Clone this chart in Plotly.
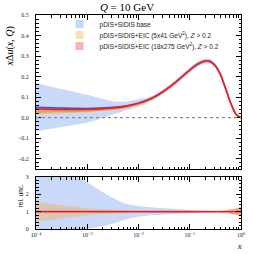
import plotly.graph_objects as go

# ---------------- data ----------------
x_vals = [0.0001, 0.000316, 0.001, 0.00316, 0.00562, 0.01, 0.0178, 0.0316, 0.0562,
          0.1, 0.141, 0.2, 0.251, 0.316, 0.398, 0.501, 0.631, 0.794, 1.0]

# central values x*Delta u(x, Q)
base_c = [0.050, 0.047, 0.045, 0.050, 0.057, 0.070, 0.093, 0.130, 0.178,
          0.232, 0.260, 0.276, 0.274, 0.253, 0.210, 0.142, 0.070, 0.017, 0.0]
eic5_c = [0.028, 0.030, 0.033, 0.042, 0.051, 0.067, 0.090, 0.127, 0.177,
          0.232, 0.260, 0.276, 0.274, 0.253, 0.210, 0.142, 0.070, 0.017, 0.0]
eic18_c = [0.042, 0.040, 0.040, 0.047, 0.055, 0.070, 0.093, 0.130, 0.178,
           0.232, 0.260, 0.276, 0.274, 0.253, 0.210, 0.142, 0.070, 0.017, 0.0]

# uncertainty bands (lower / upper)
base_lo = [-0.066, -0.045, -0.025, 0.015, 0.035, 0.052, 0.083, 0.120, 0.167,
           0.220, 0.248, 0.264, 0.262, 0.242, 0.200, 0.133, 0.063, 0.012, -0.002]
base_hi = [0.168, 0.140, 0.111, 0.079, 0.078, 0.090, 0.103, 0.140, 0.189,
           0.244, 0.272, 0.288, 0.286, 0.264, 0.220, 0.151, 0.077, 0.022, 0.002]
eic5_lo = [0.015, 0.021, 0.026, 0.037, 0.046, 0.062, 0.084, 0.121, 0.171,
           0.226, 0.254, 0.270, 0.268, 0.247, 0.204, 0.137, 0.065, 0.013, -0.001]
eic5_hi = [0.041, 0.040, 0.040, 0.047, 0.056, 0.072, 0.096, 0.133, 0.183,
           0.238, 0.266, 0.282, 0.280, 0.259, 0.216, 0.147, 0.075, 0.021, 0.001]
eic18_lo = [0.034, 0.033, 0.034, 0.041, 0.050, 0.065, 0.087, 0.124, 0.172,
            0.226, 0.254, 0.270, 0.268, 0.247, 0.204, 0.136, 0.064, 0.013, -0.001]
eic18_hi = [0.050, 0.047, 0.046, 0.053, 0.060, 0.075, 0.099, 0.136, 0.184,
            0.238, 0.266, 0.282, 0.280, 0.259, 0.216, 0.148, 0.076, 0.021, 0.001]

# relative uncertainties (lower / upper), normalised to central value
rel_one = [1.0] * len(x_vals)
base_rel_lo = [0.0, 0.0, 0.0, 0.30, 0.55, 0.72, 0.80, 0.84, 0.87, 0.90,
               0.92, 0.94, 0.95, 0.96, 0.96, 0.96, 0.95, 0.94, 0.92]
base_rel_hi = [4.0, 3.8, 2.7, 1.80, 1.45, 1.33, 1.26, 1.20, 1.16, 1.10,
               1.08, 1.06, 1.05, 1.04, 1.04, 1.04, 1.05, 1.06, 1.08]
eic5_rel_lo = [0.42, 0.62, 0.78, 0.88, 0.91, 0.93, 0.93, 0.93, 0.93, 0.93,
               0.93, 0.93, 0.93, 0.93, 0.93, 0.92, 0.88, 0.82, 0.75]
eic5_rel_hi = [1.56, 1.38, 1.20, 1.10, 1.08, 1.07, 1.07, 1.07, 1.07, 1.07,
               1.07, 1.07, 1.07, 1.07, 1.07, 1.08, 1.12, 1.18, 1.25]
eic18_rel_lo = [0.92, 0.92, 0.92, 0.92, 0.93, 0.93, 0.93, 0.93, 0.93, 0.93,
                0.94, 0.94, 0.94, 0.94, 0.94, 0.92, 0.88, 0.82, 0.75]
eic18_rel_hi = [1.08, 1.08, 1.08, 1.08, 1.07, 1.07, 1.07, 1.07, 1.07, 1.07,
                1.06, 1.06, 1.06, 1.06, 1.06, 1.08, 1.12, 1.18, 1.25]

x_tick_vals = [1e-4, 1e-3, 1e-2, 1e-1, 1.0]
x_tick_text = ["10<sup>−4</sup>", "10<sup>−3</sup>", "10<sup>−2</sup>",
               "10<sup>−1</sup>", "10<sup>0</sup>"]
y_main_ticks = [-0.2, -0.1, 0.0, 0.1, 0.2, 0.3, 0.4, 0.5]
y_rel_ticks = [0, 1, 2, 3]

labels = ["pDIS+SIDIS base",
          "pDIS+SIDIS+EIC (5x41 GeV<sup>2</sup>), <i>Z</i> > 0.2",
          "pDIS+SIDIS+EIC (18x275 GeV<sup>2</sup>), <i>Z</i> > 0.2"]

# ---------------- styles ----------------
band_cols = ["rgba(110,155,240,0.38)", "rgba(250,170,60,0.38)", "rgba(235,60,80,0.38)"]
patch_cols = ["rgba(110,155,240,0.40)", "rgba(250,170,60,0.40)", "rgba(235,60,80,0.40)"]
line_cols = ["#3555e0", "#f5a030", "#e8202c"]
SERIF = "Liberation Serif"
SANS = "Liberation Sans"

fig = go.Figure()

def band(lo, hi, col, xa, ya):
    fig.add_trace(go.Scatter(
        x=x_vals + x_vals[::-1], y=hi + lo[::-1], fill="toself", fillcolor=col,
        line=dict(width=0, shape="spline", smoothing=0.6), mode="lines",
        hoverinfo="skip", showlegend=False, xaxis=xa, yaxis=ya))

def line(y, col, xa, ya, w=1.6):
    fig.add_trace(go.Scatter(
        x=x_vals, y=y, mode="lines", line=dict(color=col, width=w, shape="spline", smoothing=0.6),
        showlegend=False, xaxis=xa, yaxis=ya))

# main panel
band(base_lo, base_hi, band_cols[0], "x", "y")
band(eic5_lo, eic5_hi, band_cols[1], "x", "y")
band(eic18_lo, eic18_hi, band_cols[2], "x", "y")
line(base_c, line_cols[0], "x", "y")
line(eic5_c, line_cols[1], "x", "y")
line(eic18_c, line_cols[2], "x", "y")

# relative uncertainty panel
band(base_rel_lo, base_rel_hi, band_cols[0], "x2", "y2")
band(eic5_rel_lo, eic5_rel_hi, band_cols[1], "x2", "y2")
band(eic18_rel_lo, eic18_rel_hi, band_cols[2], "x2", "y2")
line(rel_one, line_cols[2], "x2", "y2", w=1.4)

# legend entries (one legend each, to match the tight spacing)
leg_names = ["legend", "legend2", "legend3"]
for i in range(3):
    fig.add_trace(go.Scatter(
        x=[None], y=[None], mode="markers", name=labels[i],
        marker=dict(symbol="square", size=8, color=patch_cols[i]),
        legend=leg_names[i], xaxis="x", yaxis="y"))

# zero line
fig.add_shape(type="line", xref="x domain", yref="y", x0=0, x1=1, y0=0, y1=0,
              line=dict(color="#888888", width=1.2, dash="dot"))

W, H = 254, 254
L, R, T, B = 36, 9, 15, 25
ph = H - T - B
def py(p):
    return (H - B - p) / ph
def px(p):
    return (p - L) / (W - L - R)

axis_common = dict(showline=True, linecolor="black", linewidth=1, mirror="allticks",
                   ticks="inside", tickcolor="black", tickwidth=0.8, showgrid=False,
                   zeroline=False, tickfont=dict(family=SERIF, size=6, color="#222"))

minor_x = [k * 10 ** e for e in range(-4, 0) for k in range(2, 10)]

fig.update_layout(
    width=W, height=H, margin=dict(l=L, r=R, t=T, b=B),
    plot_bgcolor="white", paper_bgcolor="white",
    xaxis=dict(type="log", range=[-4, 0], domain=[0, 1], anchor="y",
               tickmode="array", tickvals=x_tick_vals, ticktext=x_tick_text,
               showticklabels=False, ticklen=5,
               minor=dict(ticks="inside", ticklen=2.5, tickcolor="black", tickmode="array",
                          tickvals=minor_x, showgrid=False),
               **axis_common),
    xaxis2=dict(type="log", range=[-4, 0], domain=[0, 1], anchor="y2", matches="x",
                tickmode="array", tickvals=x_tick_vals, ticktext=x_tick_text, ticklen=5,
                minor=dict(ticks="inside", ticklen=2.5, tickcolor="black", tickmode="array",
                           tickvals=minor_x, showgrid=False),
                **axis_common),
    yaxis=dict(range=[-0.25, 0.5], domain=[py(169), 1], anchor="x",
               tickmode="array", tickvals=y_main_ticks,
               ticktext=[("−" if v < 0 else "") + f"{abs(v):.1f}" for v in y_main_ticks],
               ticklen=5, ticklabelstandoff=5,
               minor=dict(ticks="inside", ticklen=2.5, tickcolor="black", dtick=0.02,
                          tick0=0, showgrid=False),
               **axis_common),
    yaxis2=dict(range=[0, 3], domain=[0, py(177)], anchor="x2",
                tickmode="array", tickvals=y_rel_ticks, ticklen=5, ticklabelstandoff=5,
                minor=dict(ticks="inside", ticklen=2.5, tickcolor="black", dtick=0.2,
                           tick0=0, showgrid=False),
                **axis_common),
    title=dict(text="<i>Q</i> = 10 GeV", x=px(140.5), xanchor="center",
               y=1 - 7 / H, yanchor="middle",
               font=dict(family=SERIF, size=11, color="black")),
)

leg_y = [24, 35, 46]
for name, yy in zip(leg_names, leg_y):
    fig.update_layout({name: dict(x=px(60), xanchor="left", y=py(yy), yanchor="middle",
                                  bgcolor="rgba(0,0,0,0)", borderwidth=0,
                                  font=dict(family=SANS, size=6.5, color="#222"),
                                  itemwidth=30, tracegroupgap=0)})

fig.add_annotation(text="<i>x</i>Δ<i>u</i>(<i>x</i>, <i>Q</i>)", textangle=-90,
                   xref="paper", yref="paper", x=px(10), y=py(46),
                   xanchor="center", yanchor="middle",
                   showarrow=False, font=dict(family=SERIF, size=10, color="black"))
fig.add_annotation(text="rel. unc.", textangle=-90,
                   xref="paper", yref="paper", x=px(20), y=py(196),
                   xanchor="center", yanchor="middle",
                   showarrow=False, font=dict(family=SANS, size=6.5, color="black"))
fig.add_annotation(text="<i>x</i>", xref="paper", yref="paper", x=px(243), y=py(246),
                   xanchor="center", yanchor="middle", borderpad=0,
                   showarrow=False, font=dict(family=SERIF, size=8, color="black"))

fig.write_html("out.html", config={"displayModeBar": False},
               post_script="document.body.style.margin='0';")
